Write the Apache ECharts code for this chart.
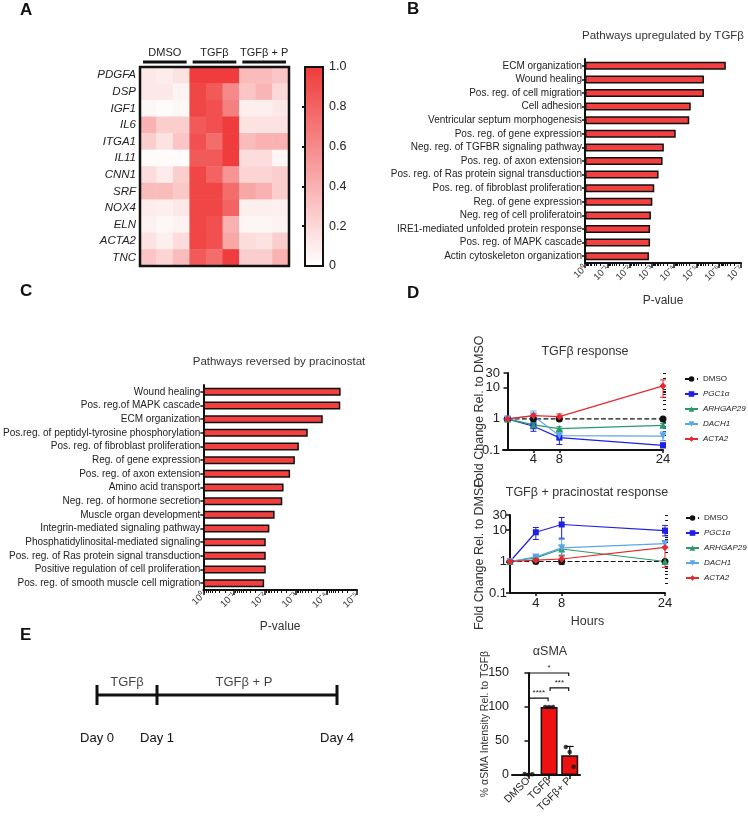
<!DOCTYPE html>
<html><head><meta charset="utf-8">
<script src="https://cdn.jsdelivr.net/npm/echarts@6/dist/echarts.min.js"></script>
<style>html,body{margin:0;padding:0;background:#fff}#c{width:748px;height:816px}</style>
</head><body><div id="c"></div>
<script>
// ---------- Panel A: heatmap ----------
const heatGenes = ['PDGFA','DSP','IGF1','IL6','ITGA1','IL11','CNN1','SRF','NOX4','ELN','ACTA2','TNC'];
const heatSamples = ['DMSO 1','DMSO 2','DMSO 3','TGFβ 1','TGFβ 2','TGFβ 3','TGFβ + P 1','TGFβ + P 2','TGFβ + P 3'];
const heatGroups = ['DMSO','TGFβ','TGFβ + P'];
const heatValues = [
  [0.12,0.10,0.15, 1.00,1.00,1.00, 0.35,0.35,0.30],
  [0.12,0.12,0.06, 0.95,0.85,0.60, 0.30,0.38,0.20],
  [0.04,0.02,0.04, 0.95,0.90,0.65, 0.08,0.08,0.12],
  [0.40,0.25,0.25, 0.85,0.90,1.00, 0.15,0.15,0.15],
  [0.25,0.15,0.30, 0.90,0.75,1.00, 0.35,0.40,0.40],
  [0.02,0.02,0.02, 0.85,0.85,1.00, 0.18,0.18,0.05],
  [0.18,0.10,0.25, 0.95,0.80,0.55, 0.22,0.22,0.25],
  [0.35,0.35,0.28, 0.95,0.95,0.75, 0.45,0.40,0.25],
  [0.10,0.08,0.12, 0.95,0.95,0.80, 0.08,0.08,0.08],
  [0.07,0.04,0.06, 0.95,0.90,0.40, 0.05,0.05,0.06],
  [0.15,0.08,0.18, 0.95,0.90,0.45, 0.18,0.15,0.25],
  [0.30,0.22,0.35, 0.85,0.75,1.00, 0.25,0.25,0.40]
];
const colorbarLabels = [0, 0.2, 0.4, 0.6, 0.8, 1.0];

// ---------- Panel B ----------
const upPathways = ['ECM organization','Wound healing','Pos. reg. of cell migration','Cell adhesion','Ventricular septum morphogenesis','Pos. reg. of gene expression','Neg. reg. of TGFBR signaling pathway','Pos. reg. of axon extension','Pos. reg. of Ras protein signal transduction','Pos. reg. of fibroblast proliferation','Reg. of gene expression','Neg. reg of cell proliferatoin','IRE1-mediated unfolded protein response','Pos. reg. of MAPK cascade','Actin cytoskeleton organization'];
const upPvalues = [4.8e-7, 4.6e-6, 4.6e-6, 1.8e-5, 2.1e-5, 8.5e-5, 2.9e-4, 3.3e-4, 5.0e-4, 7.8e-4, 9.5e-4, 1.1e-3, 1.2e-3, 1.2e-3, 1.35e-3];
const upAxisTicks = [1, 1e-1, 1e-2, 1e-3, 1e-4, 1e-5, 1e-6, 1e-7];

// ---------- Panel C ----------
const revPathways = ['Wound healing','Pos. reg.of MAPK cascade','ECM organization','Pos.reg. of peptidyl-tyrosine phosphorylation','Pos. reg. of fibroblast proliferation','Reg. of gene expression','Pos. reg. of axon extension','Amino acid transport','Neg. reg. of hormone secretion','Muscle organ development','Integrin-mediated signaling pathway','Phosphatidylinosital-mediated signaling','Pos. reg. of Ras protein signal transduction','Positive regulation of cell proliferation','Pos. reg. of smooth muscle cell migration'];
const revPvalues = [3.4e-5, 3.5e-5, 1.3e-4, 4.0e-4, 7.8e-4, 1.05e-3, 1.5e-3, 2.45e-3, 2.7e-3, 4.8e-3, 7.1e-3, 9.3e-3, 9.3e-3, 9.3e-3, 1.05e-2];
const revAxisTicks = [1, 1e-1, 1e-2, 1e-3, 1e-4, 1e-5];

// ---------- Panel D ----------
const hours = [0, 4, 8, 24];
const hourTicks = [4, 8, 24];
const foldTicks = [0.1, 1, 10, 30];
const dNames = ['DMSO','PGC1α','ARHGAP29','DACH1','ACTA2'];
const tgfDMSO = [1, 1, 1, 1];
const tgfPGC1a = [1, 0.58, 0.25, 0.14];
const tgfARHGAP29 = [1, 0.64, 0.49, 0.62];
const tgfDACH1 = [1, 1.25, 0.29, 0.28];
const tgfACTA2 = [1, 1.28, 1.18, 11.5];
const tgfPGC1aErr = [[0.9,1.1],[0.4,0.75],[0.15,0.35],[0.12,0.17]];
const tgfARHGAP29Err = [[0.9,1.1],[0.55,0.75],[0.43,0.56],[0.55,0.72]];
const tgfDACH1Err = [[0.9,1.1],[0.85,1.8],[0.22,0.38],[0.2,0.38]];
const tgfACTA2Err = [[0.9,1.1],[1.1,1.45],[1.0,1.45],[5,18]];
const prpDMSO = [1, 1, 1, 1];
const prpPGC1a = [1, 8.5, 15, 9.6];
const prpARHGAP29 = [1, 1.3, 2.5, 1.0];
const prpDACH1 = [1, 1.4, 2.7, 3.7];
const prpACTA2 = [1, 1.1, 1.2, 2.8];
const prpPGC1aErr = [[0.9,1.1],[5,12],[5.5,25],[6.5,14]];
const prpARHGAP29Err = [[0.9,1.1],[1.15,1.45],[1.6,3.3],[0.85,1.15]];
const prpDACH1Err = [[0.9,1.1],[1.25,1.55],[1.5,5],[3,4.6]];
const prpACTA2Err = [[0.9,1.1],[0.95,1.2],[0.8,1.5],[0.65,4.5]];

// ---------- Panel E ----------
const dayStops = [0, 1, 4];
const dayLabels = ['Day 0','Day 1','Day 4'];
const phaseNames = ['TGFβ','TGFβ + P'];
const phaseMid = [0.5, 2.45];
const smaGroups = ['DMSO','TGFβ','TGFβ+ P'];
const smaMeans = [1, 100, 29];
const smaErrHi = [1.5, 100, 42];
const smaPoints = [[1.5, 0.5, 1.0], [100, 100, 100], [41, 34, 12]];
const smaJitter = [-0.19, 0, 0.19];
const smaTicks = [0, 50, 100, 150];
const smaSigPairs = [[0, 1, 113], [1, 2, 128], [0, 2, 150]];
const smaSigText = ['****', '***', '*'];

// ---------- helpers ----------
const FONT = 'Liberation Sans, Arial, Helvetica, sans-serif';
const INK = '#111';
const SUP = { '0': '⁰', '1': '¹', '2': '²', '3': '³', '4': '⁴', '5': '⁵', '6': '⁶', '7': '⁷', '8': '⁸', '9': '⁹', '-': '⁻' };
function logMinor(lo, hi) {
  const out = [];
  for (let e = lo; e < hi; e++) for (let k = 2; k <= 9; k++) out.push(+(k * Math.pow(10, e)).toPrecision(3));
  return out;
}
function expLabel(v) {
  const e = Math.round(Math.log10(v));
  return '10' + String(e).split('').map(ch => SUP[ch] || ch).join('');
}
const axisLine2 = { show: true, lineStyle: { color: INK, width: 2 } };

const cDMSO = '#111111', cPGC = '#1f1fe6', cARH = '#2b9a6a', cDACH = '#5ba6ea', cACTA = '#e8282c';

function lineSeries(name, vals, color, symbol, rot, xi, yi, dashed) {
  return {
    type: 'line', name, xAxisIndex: xi, yAxisIndex: yi,
    data: hours.map((h, i) => [h, vals[i]]),
    symbol, symbolRotate: rot || 0, symbolSize: symbol === 'rect' ? 6 : 7,
    lineStyle: { color, width: 1.2, type: dashed ? 'dashed' : 'solid' },
    itemStyle: { color }, z: 3
  };
}
function errSeries(errs, color, xi, yi) {
  return {
    type: 'custom', xAxisIndex: xi, yAxisIndex: yi, silent: true, z: 2,
    encode: { x: 0, y: [1, 2] },
    data: hours.map((h, i) => [h, errs[i][0], errs[i][1]]),
    renderItem: (p, api) => {
      const x = api.value(0);
      const a = api.coord([x, api.value(1)]), b = api.coord([x, api.value(2)]);
      const w = 3, st = { stroke: color, lineWidth: 1 };
      return { type: 'group', children: [
        { type: 'line', shape: { x1: a[0], y1: a[1], x2: b[0], y2: b[1] }, style: st },
        { type: 'line', shape: { x1: a[0] - w, y1: a[1], x2: a[0] + w, y2: a[1] }, style: st },
        { type: 'line', shape: { x1: b[0] - w, y1: b[1], x2: b[0] + w, y2: b[1] }, style: st }
      ] };
    }
  };
}
function legendFor(left, top) {
  return {
    data: dNames, left, top, orient: 'vertical', itemWidth: 13, itemHeight: 7, itemGap: 7,
    padding: 0, selectedMode: false,
    formatter: n => n === 'DMSO' ? n : '{i|' + n + '}',
    textStyle: { fontSize: 8, color: '#222', fontFamily: FONT, rich: { i: { fontStyle: 'italic', fontSize: 8, color: '#222', fontFamily: FONT } } }
  };
}
const foldFmt = v => String(parseFloat((+v).toPrecision(3)));

const heatTop = 67;
const chart = echarts.init(document.getElementById('c'));
const option = {
  animation: false,
  textStyle: { fontFamily: FONT },
  title: [
    { text: 'A', left: 20, top: 2, padding: 0, textStyle: { fontSize: 17, fontWeight: 'bold', color: INK } },
    { text: 'B', left: 407, top: 1, padding: 0, textStyle: { fontSize: 17, fontWeight: 'bold', color: INK } },
    { text: 'C', left: 20, top: 283, padding: 0, textStyle: { fontSize: 17, fontWeight: 'bold', color: INK } },
    { text: 'D', left: 407, top: 285, padding: 0, textStyle: { fontSize: 17, fontWeight: 'bold', color: INK } },
    { text: 'E', left: 20, top: 627, padding: 0, textStyle: { fontSize: 17, fontWeight: 'bold', color: INK } },
    { text: 'Pathways upregulated by TGFβ', left: 663, top: 30, textAlign: 'center', padding: 0, textStyle: { fontSize: 11.5, fontWeight: 'normal', color: '#333' } },
    { text: 'Pathways reversed by pracinostat', left: 279, top: 356, textAlign: 'center', padding: 0, textStyle: { fontSize: 11.5, fontWeight: 'normal', color: '#333' } },
    { text: 'TGFβ response', left: 585, top: 345, textAlign: 'center', padding: 0, textStyle: { fontSize: 12.5, fontWeight: 'normal', color: '#333' } },
    { text: 'TGFβ + pracinostat response', left: 587, top: 486, textAlign: 'center', padding: 0, textStyle: { fontSize: 12.5, fontWeight: 'normal', color: '#333' } },
    { text: 'αSMA', left: 550, top: 645, textAlign: 'center', padding: 0, textStyle: { fontSize: 12.5, fontWeight: 'normal', color: '#333' } }
  ],
  legend: [legendFor(684, 375), legendFor(685, 514)],
  visualMap: {
    type: 'continuous', seriesIndex: 0, min: 0, max: 1, calculable: false,
    inRange: { color: ['#ffffff', '#f03c3c'] },
    left: 305, top: heatTop, itemWidth: 18, itemHeight: 199, padding: 0, text: null, orient: 'vertical', hoverLink: false
  },
  grid: [
    { left: 140, top: heatTop, width: 149, height: 199, show: true, borderColor: INK, borderWidth: 2.5, backgroundColor: 'transparent', z: 6 },
    { left: 305, top: heatTop, width: 18, height: 199, show: true, borderColor: INK, borderWidth: 2, backgroundColor: 'transparent', z: 6 },
    { left: 585, top: 59, width: 156, height: 204 },
    { left: 202, top: 385, width: 155, height: 205 },
    { left: 503, top: 373, width: 160, height: 77 },
    { left: 510, top: 515, width: 155, height: 78 },
    { left: 97, top: 675, width: 240, height: 40 },
    { left: 512, top: 673, width: 68, height: 102 }
  ],
  xAxis: [
    { gridIndex: 0, type: 'category', data: heatSamples, show: false },
    { gridIndex: 0, type: 'category', data: heatGroups, position: 'top', axisLine: { show: false }, axisTick: { show: false },
      axisLabel: { interval: 0, hideOverlap: false, fontSize: 11, color: '#222', margin: 9 } },
    { gridIndex: 1, type: 'value', show: false },
    { gridIndex: 2, type: 'log', logBase: 10, min: 1e-7, max: 1, inverse: true, position: 'bottom',
      axisLine: axisLine2, splitLine: { show: false },
      axisTick: { show: true, length: 5, lineStyle: { color: INK, width: 1.5 }, customValues: upAxisTicks },
      axisLabel: { customValues: upAxisTicks, rotate: 45, margin: 4, formatter: expLabel, fontSize: 9.5, color: '#333' },
      name: 'P-value', nameLocation: 'middle', nameGap: 32, nameMoveOverlap: false, nameTextStyle: { fontSize: 12, color: '#333' } },
    { gridIndex: 2, type: 'log', logBase: 10, min: 1e-7, max: 1, inverse: true, position: 'bottom',
      axisLine: { show: false }, splitLine: { show: false }, axisLabel: { show: false },
      axisTick: { show: true, length: 3, lineStyle: { color: INK, width: 1 }, customValues: logMinor(-7, 0) } },
    { gridIndex: 3, type: 'log', logBase: 10, min: 1e-5, max: 1, inverse: true, position: 'bottom',
      axisLine: axisLine2, splitLine: { show: false },
      axisTick: { show: true, length: 5, lineStyle: { color: INK, width: 1.5 }, customValues: revAxisTicks },
      axisLabel: { customValues: revAxisTicks, rotate: 45, margin: 4, formatter: expLabel, fontSize: 9.5, color: '#333' },
      name: 'P-value', nameLocation: 'middle', nameGap: 31, nameMoveOverlap: false, nameTextStyle: { fontSize: 12, color: '#333' } },
    { gridIndex: 3, type: 'log', logBase: 10, min: 1e-5, max: 1, inverse: true, position: 'bottom',
      axisLine: { show: false }, splitLine: { show: false }, axisLabel: { show: false },
      axisTick: { show: true, length: 3, lineStyle: { color: INK, width: 1 }, customValues: logMinor(-5, 0) } },
    { gridIndex: 4, type: 'value', min: -0.7, max: 24, axisLine: axisLine2, splitLine: { show: false },
      axisTick: { show: true, length: 3, customValues: hourTicks, lineStyle: { color: INK, width: 1.5 } },
      axisLabel: { customValues: hourTicks, fontSize: 13, color: '#222', margin: 3 } },
    { gridIndex: 5, type: 'value', min: 0, max: 24, axisLine: axisLine2, splitLine: { show: false },
      axisTick: { show: true, length: 3, customValues: hourTicks, lineStyle: { color: INK, width: 1.5 } },
      axisLabel: { customValues: hourTicks, fontSize: 13, color: '#222', margin: 4 },
      name: 'Hours', nameLocation: 'middle', nameGap: 22, nameTextStyle: { fontSize: 12.5, color: '#333' } },
    { gridIndex: 6, type: 'value', min: 0, max: 4, axisLine: { show: false }, axisTick: { show: false }, splitLine: { show: false },
      axisLabel: { customValues: dayStops, formatter: v => dayLabels[dayStops.indexOf(v)], fontSize: 13, color: INK, margin: 17 } },
    { gridIndex: 7, type: 'value', min: -0.8, max: 2.5, axisLine: axisLine2, splitLine: { show: false },
      axisTick: { show: true, length: 4, customValues: [0, 1, 2], lineStyle: { color: INK, width: 1.5 } },
      axisLabel: { customValues: [0, 1, 2], formatter: v => smaGroups[v], rotate: 45, fontSize: 10.5, color: '#222', margin: 4 } }
  ],
  yAxis: [
    { gridIndex: 0, type: 'category', data: heatGenes, inverse: true, axisLine: { show: false }, axisTick: { show: false },
      axisLabel: { interval: 0, fontStyle: 'italic', fontSize: 11.5, color: '#222', margin: 4 } },
    { gridIndex: 1, type: 'value', min: 0, max: 1, position: 'right', axisLine: { show: false }, splitLine: { show: false },
      axisTick: { show: true, length: 3, customValues: [0.2, 0.4, 0.6, 0.8], lineStyle: { color: INK, width: 2 } },
      axisLabel: { customValues: colorbarLabels, formatter: v => v === 0 ? '0' : v.toFixed(1), fontSize: 12.5, color: '#222', margin: 6 } },
    { gridIndex: 1, type: 'value', min: 0, max: 1, position: 'left', axisLine: { show: false }, splitLine: { show: false }, axisLabel: { show: false },
      axisTick: { show: true, length: 3, customValues: [0.2, 0.4, 0.6, 0.8], lineStyle: { color: INK, width: 2 } } },
    { gridIndex: 2, type: 'category', data: upPathways, inverse: true, axisLine: axisLine2,
      axisTick: { show: true, length: 3, alignWithLabel: true, lineStyle: { color: INK, width: 1.5 } },
      axisLabel: { interval: 0, fontSize: 10, color: '#222', margin: 3 } },
    { gridIndex: 3, type: 'category', data: revPathways, inverse: true, axisLine: axisLine2,
      axisTick: { show: true, length: 3, alignWithLabel: true, lineStyle: { color: INK, width: 1.5 } },
      axisLabel: { interval: 0, fontSize: 10, color: '#222', margin: 3 } },
    { gridIndex: 4, type: 'log', logBase: 10, min: 0.1, max: 30, axisLine: axisLine2, splitLine: { show: false },
      axisTick: { show: true, length: 4, customValues: foldTicks, lineStyle: { color: INK, width: 1.5 } },
      axisLabel: { customValues: foldTicks, formatter: foldFmt, fontSize: 13, color: '#222', margin: 3 },
      name: 'Fold Change Rel. to DMSO', nameLocation: 'middle', nameGap: 17, nameMoveOverlap: false, nameTextStyle: { fontSize: 12.5, color: '#333' } },
    { gridIndex: 4, type: 'log', logBase: 10, min: 0.1, max: 30, axisLine: { show: false }, splitLine: { show: false }, axisLabel: { show: false },
      axisTick: { show: true, length: 3, customValues: logMinor(-1, 2), lineStyle: { color: INK, width: 1 } } },
    { gridIndex: 5, type: 'log', logBase: 10, min: 0.1, max: 30, axisLine: axisLine2, splitLine: { show: false },
      axisTick: { show: true, length: 4, customValues: foldTicks, lineStyle: { color: INK, width: 1.5 } },
      axisLabel: { customValues: foldTicks, formatter: foldFmt, fontSize: 13, color: '#222', margin: 3 },
      name: 'Fold Change Rel. to DMSO', nameLocation: 'middle', nameGap: 24, nameMoveOverlap: false, nameTextStyle: { fontSize: 12.5, color: '#333' } },
    { gridIndex: 5, type: 'log', logBase: 10, min: 0.1, max: 30, axisLine: { show: false }, splitLine: { show: false }, axisLabel: { show: false },
      axisTick: { show: true, length: 3, customValues: logMinor(-1, 2), lineStyle: { color: INK, width: 1 } } },
    { gridIndex: 6, type: 'value', min: -1, max: 1, show: false },
    { gridIndex: 7, type: 'value', min: 0, max: 150, axisLine: axisLine2, splitLine: { show: false },
      axisTick: { show: true, length: 4, customValues: smaTicks, lineStyle: { color: INK, width: 1.5 } },
      axisLabel: { customValues: smaTicks, fontSize: 12.5, color: '#222', margin: 3 },
      name: '% αSMA Intensity Rel. to TGFβ', nameLocation: 'middle', nameGap: 21, nameMoveOverlap: false, nameTextStyle: { fontSize: 10.5, color: '#333' } }
  ],
  series: [
    { type: 'heatmap', xAxisIndex: 0, yAxisIndex: 0,
      data: heatValues.flatMap((row, r) => row.map((v, c) => [c, r, v])) },
    { type: 'bar', xAxisIndex: 3, yAxisIndex: 3, data: upPvalues, barWidth: 8,
      itemStyle: { color: '#f24040', borderColor: INK, borderWidth: 1.5 } },
    { type: 'bar', xAxisIndex: 5, yAxisIndex: 4, data: revPvalues, barWidth: 8,
      itemStyle: { color: '#f24040', borderColor: INK, borderWidth: 1.5 } },
    // D top
    errSeries(tgfPGC1aErr, cPGC, 7, 5),
    errSeries(tgfARHGAP29Err, cARH, 7, 5),
    errSeries(tgfDACH1Err, cDACH, 7, 5),
    errSeries(tgfACTA2Err, cACTA, 7, 5),
    lineSeries('DMSO', tgfDMSO, cDMSO, 'circle', 0, 7, 5, true),
    lineSeries('PGC1α', tgfPGC1a, cPGC, 'rect', 0, 7, 5),
    lineSeries('ARHGAP29', tgfARHGAP29, cARH, 'triangle', 0, 7, 5),
    lineSeries('DACH1', tgfDACH1, cDACH, 'triangle', 180, 7, 5),
    lineSeries('ACTA2', tgfACTA2, cACTA, 'diamond', 0, 7, 5),
    // D bottom
    errSeries(prpPGC1aErr, cPGC, 8, 7),
    errSeries(prpARHGAP29Err, cARH, 8, 7),
    errSeries(prpDACH1Err, cDACH, 8, 7),
    errSeries(prpACTA2Err, cACTA, 8, 7),
    lineSeries('DMSO', prpDMSO, cDMSO, 'circle', 0, 8, 7, true),
    lineSeries('PGC1α', prpPGC1a, cPGC, 'rect', 0, 8, 7),
    lineSeries('ARHGAP29', prpARHGAP29, cARH, 'triangle', 0, 8, 7),
    lineSeries('DACH1', prpDACH1, cDACH, 'triangle', 180, 8, 7),
    lineSeries('ACTA2', prpACTA2, cACTA, 'diamond', 0, 8, 7),
    // E timeline
    { type: 'line', xAxisIndex: 9, yAxisIndex: 9, data: dayStops.map(d => [d, 0]),
      symbol: 'rect', symbolSize: [3, 20], itemStyle: { color: INK }, lineStyle: { color: INK, width: 3 } },
    { type: 'scatter', xAxisIndex: 9, yAxisIndex: 9, symbolSize: 1, itemStyle: { color: 'rgba(0,0,0,0)' },
      data: phaseMid.map((m, i) => ({ value: [m, 0], name: phaseNames[i] })),
      label: { show: true, position: 'top', distance: 6, formatter: '{b}', fontSize: 13, color: INK } },
    // E bar chart
    { type: 'bar', xAxisIndex: 10, yAxisIndex: 10, data: smaMeans.map((m, i) => [i, m]), barWidth: 17,
      itemStyle: { color: '#ee1111', borderColor: INK, borderWidth: 1.5 }, z: 2 },
    { type: 'custom', xAxisIndex: 10, yAxisIndex: 10, silent: true, z: 3, encode: { x: 0, y: [1, 2] },
      data: smaMeans.map((m, i) => [i, m, smaErrHi[i]]),
      renderItem: (p, api) => {
        const a = api.coord([api.value(0), api.value(1)]), b = api.coord([api.value(0), api.value(2)]);
        const st = { stroke: INK, lineWidth: 1.2 };
        return { type: 'group', children: [
          { type: 'line', shape: { x1: a[0], y1: a[1], x2: b[0], y2: b[1] }, style: st },
          { type: 'line', shape: { x1: b[0] - 4, y1: b[1], x2: b[0] + 4, y2: b[1] }, style: st }
        ] };
      } },
    { type: 'scatter', xAxisIndex: 10, yAxisIndex: 10, symbolSize: 4.5, itemStyle: { color: INK }, z: 4,
      data: smaPoints.flatMap((pts, g) => pts.map((v, k) => [g + smaJitter[k], v])) },
    { type: 'custom', xAxisIndex: 10, yAxisIndex: 10, silent: true, z: 4, encode: { x: [0, 1], y: 2 },
      data: smaSigPairs,
      renderItem: (p, api) => {
        const y = api.value(2);
        const a = api.coord([api.value(0), y]), b = api.coord([api.value(1), y]);
        const d = 3;
        return { type: 'group', children: [
          { type: 'polyline', shape: { points: [[a[0] + 1, a[1] + d], [a[0] + 1, a[1]], [b[0] - 1, b[1]], [b[0] - 1, b[1] + d]] },
            style: { stroke: INK, lineWidth: 1.2, fill: null } },
          { type: 'text', style: { text: smaSigText[p.dataIndex], x: (a[0] + b[0]) / 2, y: a[1] - 1, align: 'center', verticalAlign: 'bottom',
            fontSize: 8, fill: '#222', fontFamily: FONT } }
        ] };
      } }
  ]
};
chart.setOption(option);

// underline bars above the heatmap sample groups
const px0 = chart.convertToPixel({ xAxisIndex: 0 }, heatSamples[0]);
const px1 = chart.convertToPixel({ xAxisIndex: 0 }, heatSamples[1]);
const band = px1 - px0;
chart.setOption({
  graphic: heatGroups.map((g, i) => {
    const start = chart.convertToPixel({ xAxisIndex: 0 }, heatSamples[i * 3]) - band / 2;
    return { type: 'line', shape: { x1: start + 3, y1: heatTop - 5, x2: start + 3 * band - 3, y2: heatTop - 5 },
      style: { stroke: INK, lineWidth: 3 }, silent: true };
  })
});
</script></body></html>
